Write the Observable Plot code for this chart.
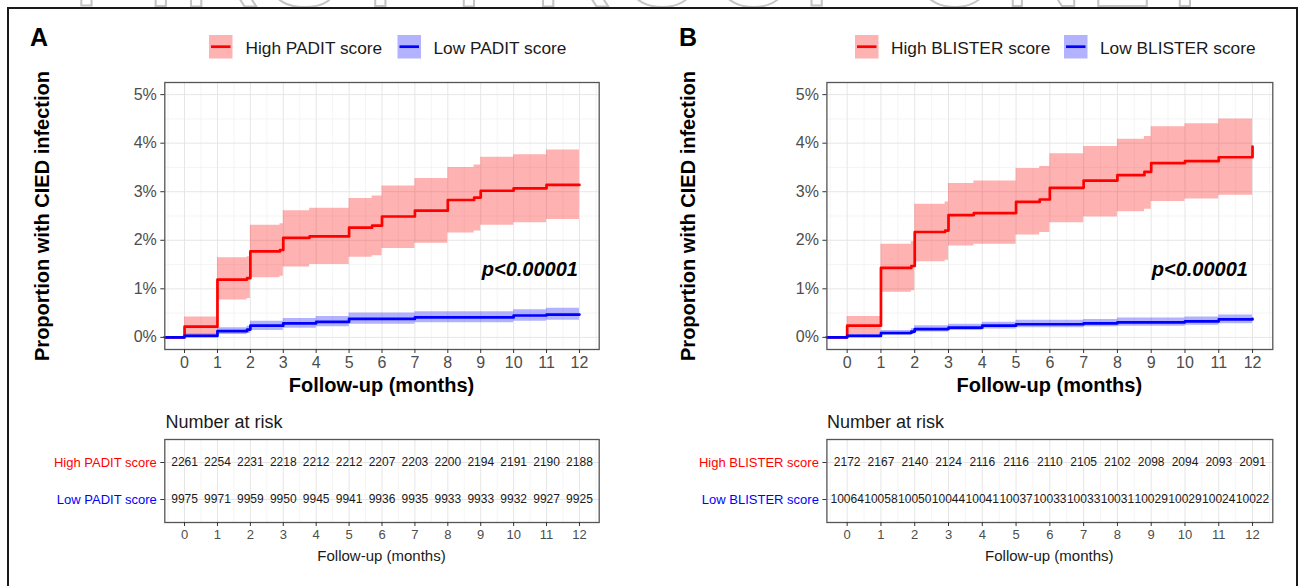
<!DOCTYPE html>
<html>
<head>
<meta charset="utf-8">
<script src="https://cdn.jsdelivr.net/npm/d3@7"></script>
<script src="https://cdn.jsdelivr.net/npm/@observablehq/plot@0.6"></script>
<style>
  html, body { margin: 0; padding: 0; }
  body { width: 1300px; height: 586px; overflow: hidden; position: relative; background: #fff;
         font-family: "Liberation Sans", Arial, sans-serif; }
  #wmclip { position: absolute; left: 0; top: 0; width: 1300px; height: 8px; overflow: hidden; }
  #wm { position: absolute; left: 0; top: -36px; width: 1300px; height: 8px; text-align: center; font-size: 110px;
        line-height: 8px; letter-spacing: 6px; color: transparent; -webkit-text-stroke: 2px #c4c4c4;
        font-family: "Liberation Sans", Arial, sans-serif; white-space: nowrap; }
  #fig { position: absolute; left: 7px; top: 7px; width: 1291px; height: 640px; box-sizing: border-box;
         border: 2.5px solid #1a1a1a; background: #fff; }
  .plot { position: absolute; }
  #overlay { position: absolute; left: 0; top: 0; }
</style>
</head>
<body>
<div id="wmclip"><div id="wm">FIRST PROOF ONLY</div></div>
<div id="fig"></div>
<div id="root"></div>
<script>
// ---------------- DATA ----------------
const months = [0,1,2,3,4,5,6,7,8,9,10,11,12];
const yTicks = [0,1,2,3,4,5];

// Panel A (PADIT) — cumulative infection, %
const highA_t  = [-0.6, 0, 1, 1.9, 2, 2.9, 3, 3.8, 5, 5.7, 6, 7, 8, 8.8, 9, 10, 11, 12];
const highA    = [0, 0.22, 1.19, 1.22, 1.77, 1.80, 2.05, 2.08, 2.26, 2.30, 2.49, 2.61, 2.83, 2.88, 3.02, 3.07, 3.14, 3.14];
const highA_lo = [0, 0.02, 0.77, 0.80, 1.23, 1.26, 1.45, 1.50, 1.65, 1.68, 1.83, 1.94, 2.15, 2.19, 2.31, 2.36, 2.43, 2.43];
const highA_hi = [0, 0.42, 1.64, 1.66, 2.31, 2.34, 2.61, 2.66, 2.86, 2.91, 3.12, 3.27, 3.50, 3.55, 3.71, 3.76, 3.86, 3.86];

const lowA_t  = [-0.6, 0, 1, 1.9, 2, 3, 4, 5, 7, 10, 11, 12];
const lowA    = [0, 0.03, 0.13, 0.16, 0.24, 0.29, 0.32, 0.38, 0.41, 0.45, 0.47, 0.47];
const lowA_lo = [0, 0.00, 0.06, 0.08, 0.14, 0.19, 0.22, 0.27, 0.30, 0.33, 0.35, 0.35];
const lowA_hi = [0, 0.07, 0.20, 0.23, 0.33, 0.39, 0.43, 0.50, 0.53, 0.57, 0.60, 0.60];

// Panel B (BLISTER)
const highB_t  = [-0.6, 0, 1, 1.9, 2, 2.9, 3, 3.75, 5, 5.7, 6, 7, 8, 8.8, 9, 10, 11, 12, 12];
const highB    = [0, 0.24, 1.43, 1.47, 2.17, 2.20, 2.52, 2.56, 2.79, 2.84, 3.08, 3.23, 3.34, 3.41, 3.59, 3.63, 3.71, 3.71, 3.93];
const highB_lo = [0, 0.05, 0.93, 0.96, 1.56, 1.59, 1.88, 1.92, 2.11, 2.16, 2.36, 2.48, 2.59, 2.64, 2.80, 2.85, 2.93, 2.93, 2.93];
const highB_hi = [0, 0.43, 1.92, 1.97, 2.74, 2.79, 3.17, 3.22, 3.48, 3.52, 3.78, 3.93, 4.08, 4.14, 4.34, 4.40, 4.50, 4.50, 4.50];

const lowB_t  = [-0.6, 0, 1, 1.9, 2, 3, 4, 5, 7, 8, 10, 11, 12];
const lowB    = [0, 0.03, 0.09, 0.12, 0.17, 0.20, 0.24, 0.27, 0.29, 0.31, 0.33, 0.37, 0.38];
const lowB_lo = [0, 0.00, 0.04, 0.06, 0.11, 0.14, 0.17, 0.20, 0.22, 0.23, 0.25, 0.28, 0.29];
const lowB_hi = [0, 0.06, 0.14, 0.18, 0.24, 0.27, 0.31, 0.35, 0.37, 0.40, 0.42, 0.46, 0.47];

// Numbers at risk
const riskHighA = [2261, 2254, 2231, 2218, 2212, 2212, 2207, 2203, 2200, 2194, 2191, 2190, 2188];
const riskLowA  = [9975, 9971, 9959, 9950, 9945, 9941, 9936, 9935, 9933, 9933, 9932, 9927, 9925];
const riskHighB = [2172, 2167, 2140, 2124, 2116, 2116, 2110, 2105, 2102, 2098, 2094, 2093, 2091];
const riskLowB  = [10064, 10058, 10050, 10044, 10041, 10037, 10033, 10033, 10031, 10029, 10029, 10024, 10022];

const labelsA = ["High PADIT score", "Low PADIT score"];
const labelsB = ["High BLISTER score", "Low BLISTER score"];
const panelLetters = ["A", "B"];
const yTitle = "Proportion with CIED infection";
const xTitle = "Follow-up (months)";
const riskTitle = "Number at risk";
const pText = "p<0.00001";

// ---------------- DRAWING ----------------
const FONT = '"Liberation Sans", Arial, sans-serif';
const RED = "#ff0000", BLUE = "#0000ff";
const xDomain = [-0.6, 12.6];
const xMinor = d3.range(-0.5, 13, 1);
const yMinor = d3.range(0.5, 5, 1);

function series(t, v, lo, hi) { return t.map((d, i) => ({t: d, v: v[i], lo: lo[i], hi: hi[i]})); }

function mainPlot(p) {
  const hi = series(p.ht, p.h, p.hlo, p.hhi);
  const lo = series(p.lt, p.l, p.llo, p.lhi);
  return Plot.plot({
    width: 650, height: 400,
    marginLeft: p.ml, marginRight: p.mr, marginTop: 82, marginBottom: 51,
    x: {domain: xDomain},
    y: {domain: [-0.25, 5.25]},
    style: {fontFamily: FONT, background: "transparent", overflow: "visible"},
    marks: [
      Plot.ruleX(xMinor, {stroke: "#f1f1f1", strokeWidth: 0.7}),
      Plot.ruleY(yMinor, {stroke: "#f1f1f1", strokeWidth: 0.7}),
      Plot.ruleX(months, {stroke: "#e6e6e6", strokeWidth: 1}),
      Plot.ruleY(yTicks, {stroke: "#e6e6e6", strokeWidth: 1}),
      Plot.areaY(hi, {x: "t", y1: "lo", y2: "hi", curve: "step-after", fill: RED, fillOpacity: 0.3}),
      Plot.areaY(lo, {x: "t", y1: "lo", y2: "hi", curve: "step-after", fill: BLUE, fillOpacity: 0.3}),
      Plot.line(hi, {x: "t", y: "v", curve: "step-after", stroke: RED, strokeWidth: 2.7}),
      Plot.line(lo, {x: "t", y: "v", curve: "step-after", stroke: BLUE, strokeWidth: 2.7}),
      Plot.frame({stroke: "#555", strokeWidth: 1.3}),
      Plot.axisX(months, {tickSize: 4, tickPadding: 3, fontSize: 16, fill: "#4d4d4d", stroke: "#333", label: null}),
      Plot.axisY(yTicks, {tickSize: 4, tickPadding: 4, fontSize: 16, fill: "#4d4d4d", stroke: "#333",
                          tickFormat: d => d + "%", label: null})
    ]
  });
}

function riskPlot(p) {
  const rows = [];
  months.forEach((m, i) => {
    rows.push({t: m, g: p.labels[0], n: p.rh[i]});
    rows.push({t: m, g: p.labels[1], n: p.rl[i]});
  });
  return Plot.plot({
    width: 650, height: 186,
    marginLeft: p.ml, marginRight: p.mr, marginTop: 39, marginBottom: 64,
    x: {domain: xDomain},
    y: {type: "point", domain: p.labels, padding: 0.6},
    style: {fontFamily: FONT, background: "transparent", overflow: "visible"},
    marks: [
      Plot.ruleX(xMinor, {stroke: "#f1f1f1", strokeWidth: 0.7}),
      Plot.ruleX(months, {stroke: "#e6e6e6", strokeWidth: 1}),
      Plot.ruleY(p.labels, {stroke: "#e6e6e6", strokeWidth: 1}),
      Plot.text(rows, {x: "t", y: "g", text: d => String(d.n), fontSize: 12, fill: "#1a1a1a"}),
      Plot.frame({stroke: "#555", strokeWidth: 1.3}),
      Plot.axisX(months, {tickSize: 4, tickPadding: 3, fontSize: 13, fill: "#4d4d4d", stroke: "#333", label: null}),
      Plot.axisY([p.labels[0]], {tickSize: 4, tickPadding: 4, fontSize: 13, fill: RED, stroke: "#333", label: null}),
      Plot.axisY([p.labels[1]], {tickSize: 4, tickPadding: 4, fontSize: 13, fill: BLUE, stroke: "#333", label: null})
    ]
  });
}

function place(el, left, top) {
  const w = document.createElement("div");
  w.className = "plot";
  w.style.left = left + "px";
  w.style.top = top + "px";
  w.appendChild(el);
  document.getElementById("root").appendChild(w);
}

// Panel A: frame x 164.3–598.7 ; Panel B: frame x 826.4–1272.3
place(mainPlot({ht: highA_t, h: highA, hlo: highA_lo, hhi: highA_hi,
                lt: lowA_t, l: lowA, llo: lowA_lo, lhi: lowA_hi, ml: 164.3, mr: 51.3}), 0, 0);
place(riskPlot({labels: labelsA, rh: riskHighA, rl: riskLowA, ml: 164.3, mr: 51.3}), 0, 400);
place(mainPlot({ht: highB_t, h: highB, hlo: highB_lo, hhi: highB_hi,
                lt: lowB_t, l: lowB, llo: lowB_lo, lhi: lowB_hi, ml: 176.4, mr: 27.7}), 650, 0);
place(riskPlot({labels: labelsB, rh: riskHighB, rl: riskLowB, ml: 176.4, mr: 27.7}), 650, 400);

// ---------------- TEXT OVERLAY ----------------
const svg = d3.select("body").append("svg").attr("id", "overlay")
  .attr("width", 1300).attr("height", 586).style("font-family", FONT);

const panels = [
  {letterX: 30, yTitleX: 41.5, xCenter: 381.5, pRight: 578, riskX: 165.5,
   legend: [{rx: 209, tx: 245.5, c: RED, label: labelsA[0]}, {rx: 397.5, tx: 433.5, c: BLUE, label: labelsA[1]}]},
  {letterX: 679, yTitleX: 688, xCenter: 1049.3, pRight: 1248, riskX: 827,
   legend: [{rx: 855, tx: 891, c: RED, label: labelsB[0]}, {rx: 1064, tx: 1100, c: BLUE, label: labelsB[1]}]}
];

panels.forEach((p, i) => {
  svg.append("text").attr("x", p.letterX).attr("y", 45.7).attr("font-size", 25).attr("font-weight", "bold")
    .attr("fill", "#000").text(panelLetters[i]);
  p.legend.forEach(l => {
    svg.append("rect").attr("x", l.rx).attr("y", 35).attr("width", 23.5).attr("height", 23.5)
      .attr("fill", l.c).attr("fill-opacity", 0.3);
    svg.append("line").attr("x1", l.rx + 2).attr("x2", l.rx + 21.5).attr("y1", 46.7).attr("y2", 46.7)
      .attr("stroke", l.c).attr("stroke-width", 2.7);
    svg.append("text").attr("x", l.tx).attr("y", 54.3).attr("font-size", 17.3).attr("fill", "#1a1a1a").text(l.label);
  });
  svg.append("text").attr("transform", `translate(${p.yTitleX},216) rotate(-90)`)
    .attr("text-anchor", "middle").attr("dominant-baseline", "central")
    .attr("font-size", 20).attr("font-weight", "bold").attr("fill", "#000").text(yTitle);
  svg.append("text").attr("x", p.xCenter).attr("y", 385).attr("text-anchor", "middle").attr("dominant-baseline", "central")
    .attr("font-size", 20).attr("font-weight", "bold").attr("fill", "#000").text(xTitle);
  svg.append("text").attr("x", p.pRight).attr("y", 276).attr("text-anchor", "end")
    .attr("font-size", 20).attr("font-weight", "bold").attr("font-style", "italic").attr("fill", "#000").text(pText);
  svg.append("text").attr("x", p.riskX).attr("y", 428.3).attr("font-size", 18).attr("fill", "#1a1a1a").text(riskTitle);
  svg.append("text").attr("x", p.xCenter).attr("y", 555).attr("text-anchor", "middle").attr("dominant-baseline", "central")
    .attr("font-size", 15).attr("fill", "#1a1a1a").text(xTitle);
});
</script>
</body>
</html>
